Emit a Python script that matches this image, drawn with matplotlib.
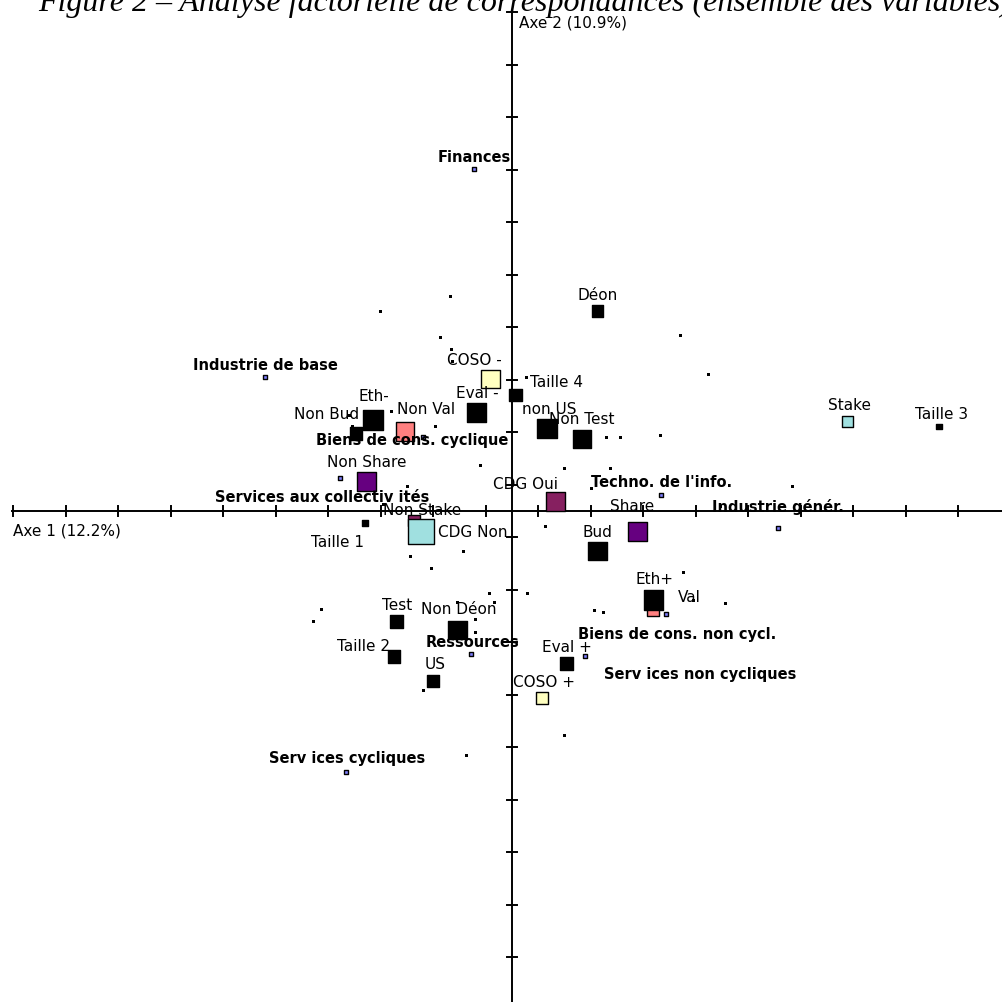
import matplotlib
matplotlib.use('Agg')

import matplotlib.pyplot as plt
import numpy as np

# one axis unit = 52.5 px on the 1003 px canvas, origin at (512, 512)
PX = 52.5

title = "Figure 2 \u2013 Analyse factorielle de correspondances (ensemble des variables)"
axe1_label = "Axe 1 (12.2%)"
axe2_label = "Axe 2 (10.9%)"

# modalities of the active variables (Val drawn before Eth+ which hides it)
mod_labels = ['D\u00e9on', 'COSO -', 'Taille 4', 'Eth-', 'Non Bud', 'Non Val', 'Eval -', 'non US',
              'Non Test', 'Stake', 'Taille 3', 'Non Share', 'CDG Oui', 'Share', 'Bud', 'Non Stake',
              'CDG Non', 'Taille 1', 'Test', 'Non D\u00e9on', 'Taille 2', 'US', 'Eval +', 'Val',
              'Eth+', 'COSO +']
mod_x = [1.632, -0.404, 0.063, -2.642, -2.971, -2.038, -0.672, 0.667,
         1.333, 6.396, 8.139, -2.775, 0.832, 2.394, 1.629, -1.867,
         -1.739, -2.800, -2.204, -1.038, -2.244, -1.505, 1.034, 2.691,
         2.695, 0.566]
mod_y = [3.815, 2.514, 2.210, 1.739, 1.476, 1.514, 1.872, 1.568,
         1.371, 1.710, 1.606, 0.566, 0.177, -0.394, -0.762, -0.181,
         -0.390, -0.223, -2.101, -2.263, -2.768, -3.238, -2.899, -1.886,
         -1.695, -3.566]

# supplementary modalities: sectors
sect_labels = ['Finances', 'Industrie de base', 'Biens de cons. cyclique', 'Services aux collectiv it\u00e9s',
               "Techno. de l'info.", 'Industrie g\u00e9n\u00e9r.', 'Ressources', 'Biens de cons. non cycl.',
               'Serv ices non cycliques', 'Serv ices cycliques']
sect_x = [-0.733, -4.709, -1.699, -3.270, 2.842, 5.067, -0.777, 2.939, 1.396, -3.168]
sect_y = [6.514, 2.543, 1.419, 0.638, 0.301, -0.318, -2.733, -1.958, -2.766, -4.971]

# individuals (firms)
ind_x = [-1.181, -2.514, -1.371, -1.168, -1.143, 0.261, -2.310, -1.467, -3.042, -3.105,
         -0.610, -2.006, 3.200, 3.728, 1.790, 2.063, 2.825, 0.996, 1.861, 1.499,
         0.629, 5.328, 3.962, -2.451, -0.939, -1.943, -1.543, -0.438, 0.291, -0.343,
         -3.644, -3.785, -1.053, -0.705, -0.705, -1.701, 3.263, 4.063, 1.562, 1.728,
         3.453, 0.996, -0.876]
ind_y = [4.090, 3.815, 3.320, 3.086, 2.863, 2.558, 1.910, 1.619, 1.619, 1.834,
         0.882, 0.476, 3.352, 2.615, 1.415, 1.415, 1.448, 0.813, 0.813, 0.438,
         -0.291, 0.470, 0.101, 0.133, -0.756, -0.863, -1.091, -1.562, -1.562, -1.728,
         -1.867, -2.101, -1.728, -2.063, -2.299, -3.404, -1.162, -1.758, -1.886, -1.930,
         -1.695, -4.267, -4.642]

# style: square side in px and fill colour for each modality
BLACK, YELLOW, SALMON, CYAN, PURPLE, PLUM = '#000000', '#ffffc0', '#ff8080', '#a0e0e0', '#660080', '#862060'
mod_side = [13, 20, 14, 21, 14, 20, 20, 21, 20, 12.5, 7, 20, 20, 20, 20, 13,
            27, 7, 14, 20, 14, 14, 14, 13, 21, 13]
mod_color = [BLACK, YELLOW, BLACK, BLACK, BLACK, SALMON, BLACK, BLACK, BLACK, CYAN, BLACK, PURPLE,
             PLUM, PURPLE, BLACK, PLUM, CYAN, BLACK, BLACK, BLACK, BLACK, BLACK, BLACK, SALMON,
             BLACK, YELLOW]
# label offsets (px, right / down) from the marker centre
mod_off = [(0, -16), (-16, -20), (41, -13.5), (1, -24), (-29, -20), (21, -23), (1, -20), (2, -20),
           (0, -20.5), (1.5, -16.4), (2, -13), (0, -20), (-30, -18), (-6, -25.7), (0, -20), (8, -11.5),
           (52, 0), (-27, 19), (1, -17), (1, -21), (-31, -11), (2, -17), (1, -17), (36, -14),
           (1.5, -21), (2, -17)]
sect_off = [(1, -13), (1, -12.5), (-11, 3), (-18, 19), (0, -13.4), (0, -22), (1, -13), (11, 20),
            (115, 17), (1, -14)]

fig = plt.figure(figsize=(10.03, 10.03), dpi=100)
ax = fig.add_axes([0, 0, 1, 1])
ax.set_xlim(-512 / PX, 491 / PX)
ax.set_ylim(-491 / PX, 512 / PX)
ax.axis('off')

# axes through the origin
lw = 1.4
ax.plot([-500 / PX, 491 / PX], [0, 0], color='black', lw=lw, zorder=1)
ax.plot([0, 0], [-491 / PX, 500 / PX], color='black', lw=lw, zorder=1)
ticks = np.arange(-9.5, 9.6, 1.0)
tl = 5 / PX
for t in ticks:
    if -500 / PX - 0.01 <= t <= 491 / PX:
        ax.plot([t, t], [-tl, tl], color='black', lw=lw, zorder=1)
    if -491 / PX <= t <= 500 / PX + 0.01:
        ax.plot([-tl, tl], [t, t], color='black', lw=lw, zorder=1)

fs = 11
ax.text(-499 / PX, -19 / PX, axe1_label, fontsize=fs, ha='left', va='center')
ax.text(7 / PX, 489 / PX, axe2_label, fontsize=fs, ha='left', va='center')

# individuals
ax.scatter(ind_x, ind_y, s=(3 * 0.72) ** 2, marker='s', color='black', linewidths=0, zorder=2)

# modalities
edge = 1.0
sizes = [max(sd * 0.72 - edge, 1) ** 2 for sd in mod_side]
ax.scatter(mod_x, mod_y, s=sizes, marker='s', c=mod_color, edgecolors='black', linewidths=edge, zorder=3)
for lab, x, y, (dx, dy) in zip(mod_labels, mod_x, mod_y, mod_off):
    ax.annotate(lab, (x, y), xytext=(dx, -dy), textcoords='offset pixels', ha='center', va='center',
                fontsize=fs, zorder=5)

# sectors
ax.scatter(sect_x, sect_y, s=(6 * 0.72 - edge) ** 2, marker='s', c='#8080ff', edgecolors='black',
           linewidths=edge, zorder=4)
for lab, x, y, (dx, dy) in zip(sect_labels, sect_x, sect_y, sect_off):
    ax.annotate(lab, (x, y), xytext=(dx, -dy), textcoords='offset pixels', ha='center', va='center',
                fontsize=10.5, fontweight='bold', zorder=5)

fig.text(38 / 1003, 1 - 11 / 1003, title, fontsize=23, family='Liberation Serif', style='italic',
         ha='left', va='baseline')

fig.savefig('out.png', dpi=100)
